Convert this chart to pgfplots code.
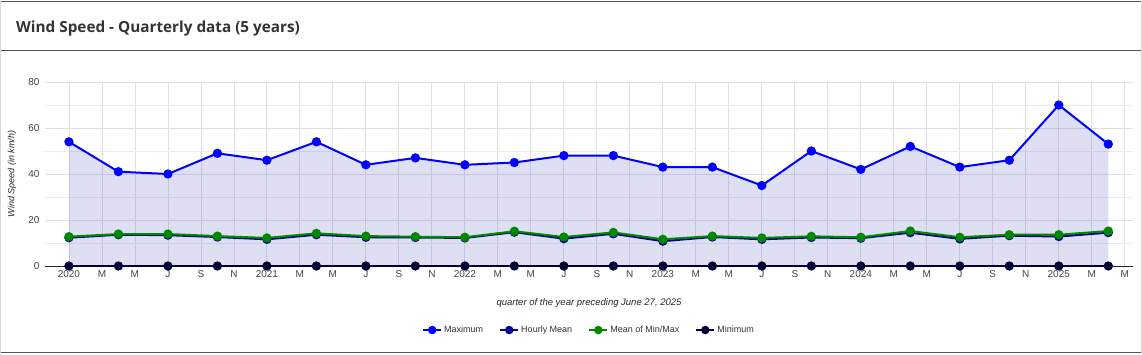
\documentclass[border=0pt]{standalone}
\usepackage{fontspec}
\setmainfont{Liberation Sans}
\newfontfamily\titlefont{Open Sans}
\usepackage{pgfplots}
\pgfplotsset{compat=1.18}
\definecolor{maxc}{RGB}{0,0,255}
\definecolor{hmc}{RGB}{0,0,139}
\definecolor{mmc}{RGB}{0,136,0}
\definecolor{minc}{RGB}{0,0,51}
\definecolor{fillc}{RGB}{63,63,191}
\definecolor{txt}{RGB}{68,68,68}
\definecolor{frame}{RGB}{85,85,85}
\begin{document}
\begin{tikzpicture}[x=1pt,y=1pt]
\begin{axis}[
  at={(45pt,88pt)}, anchor=south west, scale only axis,
  width=1088pt, height=184pt,
  xmin=-1.45, xmax=64.5, ymin=0, ymax=80,
  axis lines=left,
  x axis line style={-, black!85, line width=1pt},
  y axis line style={draw=none},
  major tick length=0pt, minor tick length=0pt,
  xtick={0,2,...,64},
  xticklabels={2020,M,M,J,S,N,2021,M,M,J,S,N,2022,M,M,J,S,N,2023,M,M,J,S,N,2024,M,M,J,S,N,2025,M,M},
  ytick={0,20,...,80},
  minor ytick={10,30,50,70},
  extra x ticks={0,12,24,36,48,60},
  extra x tick labels={},
  extra x tick style={grid style={color=black!22, line width=0.8pt}},
  grid=both,
  major grid style={color=black!12, line width=0.8pt},
  minor grid style={color=black!8, line width=0.8pt},
  /pgf/number format/assume math mode=true,
  tick label style={font=\fontsize{10}{12}\selectfont, text=txt},
  xticklabel style={yshift=-1pt},
  yticklabel style={xshift=-2pt},
  xlabel={quarter of the year preceding June 27, 2025},
  ylabel={Wind Speed (in km/h)},
  xlabel style={font=\itshape\fontsize{9.5}{11}\selectfont, text=black!85, at={(axis description cs:0.5,-0.201)}, anchor=center},
  ylabel style={font=\itshape\fontsize{9}{11}\selectfont, text=black!85, at={(axis description cs:-0.0303,0.5)}, anchor=center},
  legend columns=4,
  legend style={at={(axis description cs:0.5,-0.348)}, anchor=center, draw=none, fill=none, font=\fontsize{9}{11}\selectfont, text=black!80, /tikz/every even column/.append style={column sep=14pt}},
  legend cell align=left,
  legend image code/.code={\draw[#1, mark repeat=2, mark phase=2, mark size=3.2pt] plot coordinates {(0pt,0pt) (9pt,0pt) (18pt,0pt)};},
  clip=false,
]
\addplot[draw=none, fill=fillc, fill opacity=0.17, forget plot] coordinates {
(0,54)(3,41)(6,40)(9,49)(12,46)(15,54)(18,44)(21,47)(24,44)(27,45)(30,48)(33,48)(36,43)(39,43)(42,35)(45,50)(48,42)(51,52)(54,43)(57,46)(60,70)(63,53)} \closedcycle;
\addplot[maxc, line width=2pt, mark=*, mark size=3.6pt] coordinates {
(0,54)(3,41)(6,40)(9,49)(12,46)(15,54)(18,44)(21,47)(24,44)(27,45)(30,48)(33,48)(36,43)(39,43)(42,35)(45,50)(48,42)(51,52)(54,43)(57,46)(60,70)(63,53)};
\addlegendentry{Maximum}
\addplot[hmc, line width=2pt, mark=*, mark size=3.6pt] coordinates {
(0,12.3)(3,13.6)(6,13.4)(9,12.6)(12,11.6)(15,13.6)(18,12.5)(21,12.4)(24,12.2)(27,14.7)(30,11.9)(33,14.0)(36,10.8)(39,12.6)(42,11.6)(45,12.4)(48,12.1)(51,14.5)(54,11.8)(57,13.2)(60,12.8)(63,14.5)};
\addlegendentry{Hourly Mean}
\addplot[mmc, line width=2pt, mark=*, mark size=3.6pt] coordinates {
(0,12.75)(3,13.9)(6,13.9)(9,13.0)(12,12.2)(15,14.2)(18,13.0)(21,12.75)(24,12.5)(27,15.1)(30,12.6)(33,14.6)(36,11.6)(39,13.0)(42,12.2)(45,12.9)(48,12.5)(51,15.2)(54,12.5)(57,13.6)(60,13.6)(63,15.2)};
\addlegendentry{Mean of Min/Max}
\addplot[minc, line width=2pt, mark=*, mark size=3.6pt] coordinates {
(0,0)(3,0)(6,0)(9,0)(12,0)(15,0)(18,0)(21,0)(24,0)(27,0)(30,0)(33,0)(36,0)(39,0)(42,0)(45,0)(48,0)(51,0)(54,0)(57,0)(60,0)(63,0)};
\addlegendentry{Minimum}
\end{axis}
\pgfresetboundingbox
\path[use as bounding box] (0,0) rectangle (1142,354);
\draw[frame, line width=1pt] (0,352.5) -- (1142,352.5);
\draw[frame, line width=1pt] (0,303) -- (1142,303);
\draw[frame, line width=1pt] (0,1.5) -- (1142,1.5);
\draw[black!15, line width=0.8pt] (0.4,1.5) -- (0.4,352.5);
\draw[black!15, line width=0.8pt] (1141.6,1.5) -- (1141.6,352.5);
\node[anchor=base west, inner sep=0pt, font=\titlefont\bfseries\fontsize{15.3}{18}\selectfont, text=black!80] at (16,321) {Wind Speed - Quarterly data (5 years)};
\end{tikzpicture}
\end{document}
